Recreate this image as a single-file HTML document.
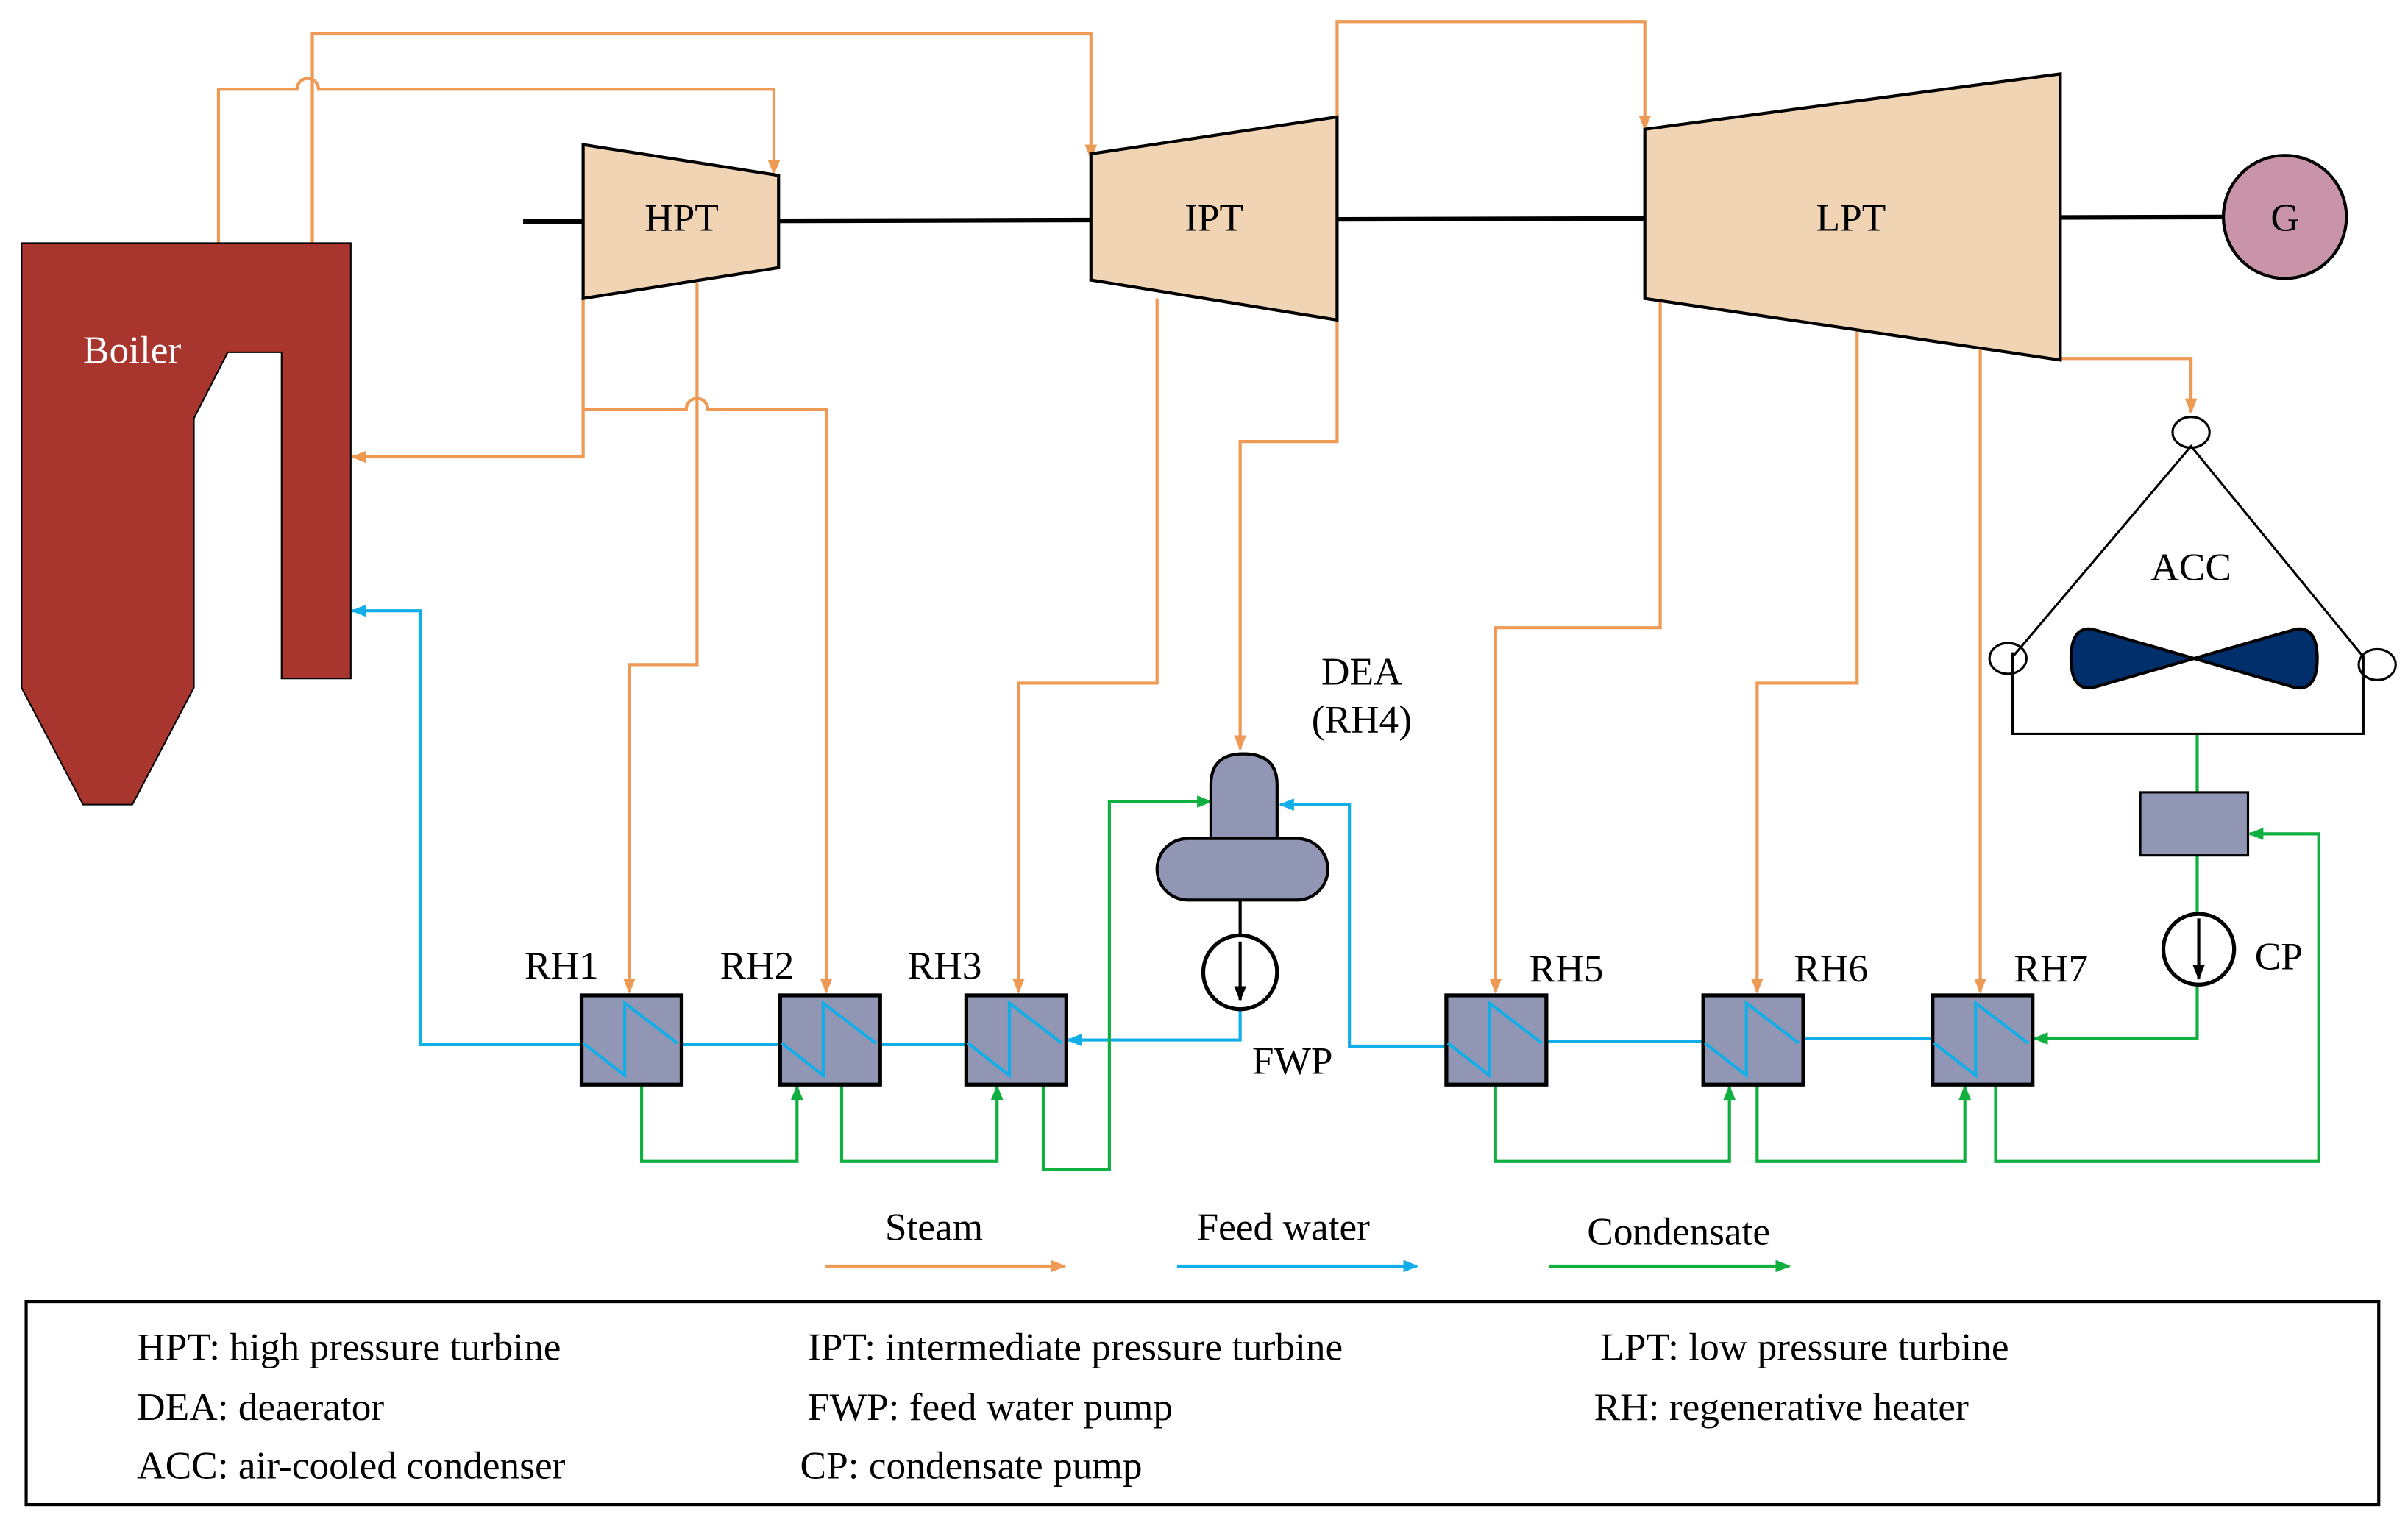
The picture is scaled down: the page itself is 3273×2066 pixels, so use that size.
<!DOCTYPE html>
<html><head><meta charset="utf-8"><style>html,body{margin:0;padding:0;background:#fff}svg{display:block}</style></head><body>
<svg width="3273" height="2066" viewBox="0 0 1565 988" preserveAspectRatio="none" xmlns="http://www.w3.org/2000/svg" font-family="Liberation Serif, serif">
<defs>
<marker id="ao" markerWidth="10" markerHeight="8" refX="9" refY="4" orient="auto" markerUnits="userSpaceOnUse"><path d="M0,0 L10,4 L0,8 Z" fill="#ee9a55"/></marker>
<marker id="ab" markerWidth="10" markerHeight="8" refX="9" refY="4" orient="auto" markerUnits="userSpaceOnUse"><path d="M0,0 L10,4 L0,8 Z" fill="#12aee8"/></marker>
<marker id="ag" markerWidth="10" markerHeight="8" refX="9" refY="4" orient="auto" markerUnits="userSpaceOnUse"><path d="M0,0 L10,4 L0,8 Z" fill="#10b040"/></marker>
<marker id="ak" markerWidth="10" markerHeight="8" refX="9" refY="4" orient="auto" markerUnits="userSpaceOnUse"><path d="M0,0 L10,4 L0,8 Z" fill="#000"/></marker>
</defs>
<rect width="1565" height="988" fill="#fff"/>
<polyline points="340,144 709,143 1069,142 1445,141" fill="none" stroke="#000" stroke-width="3"/>
<g fill="none" stroke="#ee9a55" stroke-width="2">
<path d="M142,158 V58 H193 A7,7 0 0 1 207,58 H503 V113" marker-end="url(#ao)"/>
<path d="M203,158 V22 H709 V103" marker-end="url(#ao)"/>
<path d="M869,76 V14 H1069 V84" marker-end="url(#ao)"/>
<path d="M379,194 V297 H229" marker-end="url(#ao)"/>
<path d="M379,266 H446 A7,7 0 0 1 460,266 H537 V645" marker-end="url(#ao)"/>
<path d="M453,184 V432 H409 V645" marker-end="url(#ao)"/>
<path d="M752,194 V444 H662 V645" marker-end="url(#ao)"/>
<path d="M869,208 V287 H806 V487" marker-end="url(#ao)"/>
<path d="M1079,196 V408 H972 V645" marker-end="url(#ao)"/>
<path d="M1207,214 V444 H1142 V645" marker-end="url(#ao)"/>
<path d="M1287,226 V645" marker-end="url(#ao)"/>
<path d="M1339,233 H1424 V268" marker-end="url(#ao)"/>
<path d="M536,823 H692" marker-end="url(#ao)"/>
</g>
<g fill="none" stroke="#12aee8" stroke-width="2">
<path d="M1256,675 H1172"/><path d="M1107,677 H1005"/>
<path d="M940,680 H877 V523 H832" marker-end="url(#ab)"/>
<path d="M806,656 V676 H694" marker-end="url(#ab)"/>
<path d="M628,679 H572"/><path d="M507,679 H443"/>
<path d="M378,679 H273 V397 H229" marker-end="url(#ab)"/>
<path d="M765,823 H921" marker-end="url(#ab)"/>
</g>
<g fill="none" stroke="#10b040" stroke-width="2">
<path d="M1428,477 V515"/><path d="M1428,556 V594"/>
<path d="M1428,640 V675 H1322" marker-end="url(#ag)"/>
<path d="M1297,705 V755 H1507 V542 H1462" marker-end="url(#ag)"/>
<path d="M1142,705 V755 H1277 V706" marker-end="url(#ag)"/>
<path d="M972,705 V755 H1124 V706" marker-end="url(#ag)"/>
<path d="M678,705 V760 H721 V521 H787" marker-end="url(#ag)"/>
<path d="M547,705 V755 H648 V706" marker-end="url(#ag)"/>
<path d="M417,705 V755 H518 V706" marker-end="url(#ag)"/>
<path d="M1007,823 H1163" marker-end="url(#ag)"/>
</g>
<polygon points="14,158 228,158 228,441 183,441 183,229 148,229 126,272 126,447 86,523 54,523 14,447" fill="#a8352e" stroke="#000" stroke-width="1"/>
<text x="54" y="236" font-size="25.5" fill="#fff">Boiler</text>
<g fill="#f1d4b3" stroke="#000" stroke-width="2">
<polygon points="379,94 506,114 506,174 379,194"/>
<polygon points="709,100 869,76 869,208 709,182"/>
<polygon points="1069,84 1339,48 1339,234 1069,194"/>
</g>
<circle cx="1485" cy="141" r="40" fill="#c993aa" stroke="#000" stroke-width="2"/>
<g font-size="25.5" text-anchor="middle">
<text x="443" y="150">HPT</text><text x="789" y="150">IPT</text><text x="1203" y="150">LPT</text><text x="1485" y="150">G</text>
</g>
<g stroke="#000" stroke-width="2.5" fill="#9196b4">
<rect x="378" y="647" width="65" height="58"/><rect x="507" y="647" width="65" height="58"/><rect x="628" y="647" width="65" height="58"/>
<rect x="940" y="647" width="65" height="58"/><rect x="1107" y="647" width="65" height="58"/><rect x="1256" y="647" width="65" height="58"/>
</g>
<g fill="none" stroke="#12aee8" stroke-width="2">
<polyline points="379,678 406,699 406,652 440,678"/>
<polyline points="508,678 535,699 535,652 569,678"/>
<polyline points="629,678 656,699 656,652 690,678"/>
<polyline points="941,678 968,699 968,652 1002,678"/>
<polyline points="1108,678 1135,699 1135,652 1169,678"/>
<polyline points="1257,678 1284,699 1284,652 1318,678"/>
</g>
<path d="M787,545 V510 Q787,490 808,490 Q830,490 830,510 V545 Z" fill="#9196b4" stroke="#000" stroke-width="2"/>
<rect x="752" y="545" width="111" height="40" rx="20" fill="#9196b4" stroke="#000" stroke-width="2"/>
<path d="M806,585 V608" stroke="#000" stroke-width="2"/>
<circle cx="806" cy="632" r="24" fill="#fff" stroke="#000" stroke-width="2.5"/>
<path d="M806,612 V650" stroke="#000" stroke-width="2" marker-end="url(#ak)"/>
<rect x="1391" y="515" width="70" height="41" fill="#9196b4" stroke="#000" stroke-width="1.5"/>
<circle cx="1429" cy="617" r="23" fill="#fff" stroke="#000" stroke-width="2.5"/>
<path d="M1429,597 V636" stroke="#000" stroke-width="2" marker-end="url(#ak)"/>
<g fill="none" stroke="#000" stroke-width="1.5">
<polyline points="1308,424 1308,427 1424,290 1536,427 1536,477 1308,477 1308,424"/>
<ellipse cx="1424" cy="281" rx="12" ry="10"/>
<ellipse cx="1305" cy="428" rx="12" ry="10"/>
<ellipse cx="1545" cy="432" rx="12" ry="10"/>
</g>
<path d="M1426,428 L1360,409 Q1346,407 1346,428 Q1346,449 1360,447 Z M1426,428 L1492,409 Q1506,407 1506,428 Q1506,449 1492,447 Z" fill="#002f6c" stroke="#000" stroke-width="2"/>
<g font-size="25.5" text-anchor="middle">
<text x="1424" y="377">ACC</text>
<text x="885" y="445">DEA</text><text x="885" y="476">(RH4)</text>
<text x="840" y="698">FWP</text><text x="1481" y="630">CP</text>
<text x="365" y="636">RH1</text><text x="492" y="636">RH2</text><text x="614" y="636">RH3</text>
<text x="1018" y="638">RH5</text><text x="1190" y="638">RH6</text><text x="1333" y="638">RH7</text>
<text x="607" y="806">Steam</text><text x="834" y="806">Feed water</text><text x="1091" y="809">Condensate</text>
</g>
<rect x="17" y="846" width="1529" height="132" fill="none" stroke="#000" stroke-width="2"/>
<g font-size="25.5">
<text x="89" y="884">HPT: high pressure turbine</text>
<text x="525" y="884">IPT: intermediate pressure turbine</text>
<text x="1040" y="884">LPT: low pressure turbine</text>
<text x="89" y="923">DEA: deaerator</text>
<text x="525" y="923">FWP: feed water pump</text>
<text x="1036" y="923">RH: regenerative heater</text>
<text x="89" y="961">ACC: air-cooled condenser</text>
<text x="520" y="961">CP: condensate pump</text>
</g>
</svg>
</body></html>
